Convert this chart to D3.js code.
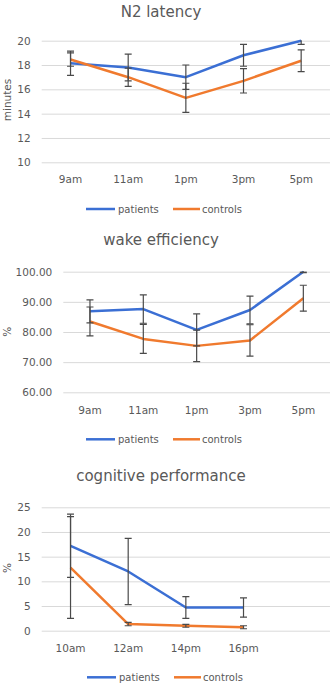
<!DOCTYPE html>
<html>
<head>
<meta charset="utf-8">
<script src="https://cdn.jsdelivr.net/npm/d3@7"></script>
<style>
  body { margin: 0; background: #fff; }
  svg { display: block; font-family: "DejaVu Sans", sans-serif; }
</style>
</head>
<body>
<div id="chart"></div>
<script>
// ---- data ----
var timesA = ['9am', '11am', '1pm', '3pm', '5pm'];
var timesB = ['10am', '12am', '14pm', '16pm'];

var n2Patients = [18.15, 17.8, 17.0, 18.8, 20.0];
var n2PatientsErr = [1.0, 1.1, 1.0, 0.9, 0.3];
var n2Controls = [18.45, 17.0, 15.3, 16.7, 18.35];
var n2ControlsErr = [0.55, 0.75, 1.2, 1.0, 0.9];
var n2Ticks = [10, 12, 14, 16, 18, 20];

var wakePatients = [86.85, 87.6, 80.7, 87.3, 100.0];
var wakePatientsErr = [3.8, 4.7, 5.3, 4.6, 0.3];
var wakeControls = [83.5, 77.7, 75.4, 77.2, 91.2];
var wakeControlsErr = [4.8, 4.8, 5.2, 5.2, 4.3];
var wakeTicks = [60, 70, 80, 90, 100];

var cogPatients = [17.2, 12.0, 4.7, 4.7];
var cogPatientsErr = [6.4, 6.7, 2.2, 1.95];
var cogControls = [12.8, 1.35, 1.0, 0.7];
var cogControlsErr = [10.3, 0.35, 0.3, 0.3];
var cogTicks = [0, 5, 10, 15, 20, 25];

var seriesNames = ['patients', 'controls'];
var colors = ['#3b6fd4', '#f07a2e'];

var W = 332, H = 685;
var svg = d3.select('#chart').append('svg').attr('width', W).attr('height', H);

function drawChart(opt) {
  var g = svg.append('g');
  var textCol = '#595959';

  // title
  g.append('text')
    .attr('x', 161).attr('y', opt.titleY)
    .attr('text-anchor', 'middle')
    .style('font-size', '15px').attr('fill', textCol)
    .text(opt.title);

  var y = d3.scaleLinear().domain(d3.extent(opt.ticks)).range([opt.bottom, opt.top]);
  // category slots: always 5 wide, like the source sheet
  var slotW = (330 - opt.left) / 5;
  var x = d3.scaleBand().domain(opt.cats).range([opt.left, opt.left + slotW * opt.cats.length]);
  var cx = function (c) { return x(c) + x.bandwidth() / 2; };

  // grid
  g.append('g')
    .attr('transform', 'translate(' + opt.left + ',0)')
    .call(d3.axisLeft(y).tickValues(opt.ticks).tickSize(-(330 - opt.left)).tickFormat(''))
    .call(function (a) { a.select('.domain').remove(); })
    .selectAll('line').attr('stroke', '#d9d9d9').attr('stroke-width', 1);

  // y labels
  g.append('g')
    .attr('transform', 'translate(' + (opt.left - 11) + ',0)')
    .call(d3.axisLeft(y).tickValues(opt.ticks).tickSize(0).tickPadding(0).tickFormat(opt.fmt))
    .call(function (a) { a.select('.domain').remove(); })
    .selectAll('text').attr('fill', textCol).style('font-size', '10.5px')
    .style('font-family', '"DejaVu Sans", sans-serif');

  // y title
  g.append('text')
    .attr('transform', 'translate(' + 11 + ',' + opt.ytitleY + ') rotate(-90)')
    .attr('text-anchor', 'middle')
    .style('font-size', '10.5px').attr('fill', textCol)
    .text(opt.ytitle);

  // x labels
  g.append('g')
    .attr('transform', 'translate(0,' + opt.xlabY + ')')
    .call(d3.axisBottom(x).tickSize(0).tickPadding(0))
    .call(function (a) { a.select('.domain').remove(); })
    .selectAll('text').attr('fill', textCol).style('font-size', '10.5px')
    .style('font-family', '"DejaVu Sans", sans-serif').attr('dy', '0.35em').attr('y', 0);

  var clipId = 'clip' + opt.id;
  g.append('clipPath').attr('id', clipId).append('rect')
    .attr('x', opt.left).attr('y', opt.top - 0.5)
    .attr('width', 330 - opt.left).attr('height', opt.bottom - opt.top + 1);

  var line = d3.line().x(function (d) { return cx(d.c); }).y(function (d) { return y(d.v); });

  opt.series.forEach(function (s, i) {
    var pts = opt.cats.map(function (c, k) { return { c: c, v: s.values[k], e: s.err[k] }; });
    g.append('path')
      .datum(pts)
      .attr('d', line)
      .attr('fill', 'none')
      .attr('stroke', colors[i])
      .attr('stroke-width', 2.5)
      .attr('stroke-linejoin', 'round');
  });

  // error bars on top
  opt.series.forEach(function (s, i) {
    var pts = opt.cats.map(function (c, k) { return { c: c, v: s.values[k], e: s.err[k] }; });
    var eb = g.append('g').attr('clip-path', 'url(#' + clipId + ')')
      .attr('stroke', '#4a4a4a').attr('stroke-width', 1.2);
    eb.selectAll('line.v').data(pts).enter().append('line')
      .attr('x1', function (d) { return cx(d.c); }).attr('x2', function (d) { return cx(d.c); })
      .attr('y1', function (d) { return y(d.v + d.e); }).attr('y2', function (d) { return y(d.v - d.e); });
    [1, -1].forEach(function (sgn) {
      eb.selectAll(null).data(pts).enter().append('line')
        .attr('x1', function (d) { return cx(d.c) - 3.5; }).attr('x2', function (d) { return cx(d.c) + 3.5; })
        .attr('y1', function (d) { return y(d.v + sgn * d.e); }).attr('y2', function (d) { return y(d.v + sgn * d.e); });
    });
  });

  // legend
  var lg = g.append('g').attr('transform', 'translate(0,' + opt.legY + ')');
  var legX = [[86, 115, 118], [173, 200, 202]];
  seriesNames.forEach(function (n, i) {
    lg.append('line').attr('x1', legX[i][0] + opt.legDx).attr('x2', legX[i][1] + opt.legDx)
      .attr('stroke', colors[i]).attr('stroke-width', 2.5);
    lg.append('text').attr('x', legX[i][2] + opt.legDx).attr('dy', '0.35em')
      .style('font-size', '10px').attr('fill', textCol).text(n);
  });
}

drawChart({
  id: 1, title: 'N2 latency', titleY: 17, ytitle: 'minutes', ytitleY: 100,
  top: 40.7, bottom: 162.3, left: 41.7, xlabY: 179, legY: 209, legDx: 0,
  cats: timesA, ticks: n2Ticks, fmt: d3.format('d'),
  series: [{ values: n2Patients, err: n2PatientsErr }, { values: n2Controls, err: n2ControlsErr }]
});

drawChart({
  id: 2, title: 'wake efficiency', titleY: 245, ytitle: '%', ytitleY: 331.7,
  top: 271.7, bottom: 392.3, left: 63.3, xlabY: 410, legY: 439.3, legDx: 0,
  cats: timesA, ticks: wakeTicks, fmt: d3.format('.2f'),
  series: [{ values: wakePatients, err: wakePatientsErr }, { values: wakeControls, err: wakeControlsErr }]
});

drawChart({
  id: 3, title: 'cognitive performance', titleY: 481, ytitle: '%', ytitleY: 568,
  top: 507.3, bottom: 630.7, left: 41.7, xlabY: 648.3, legY: 677.3, legDx: 1,
  cats: timesB, ticks: cogTicks, fmt: d3.format('d'),
  series: [{ values: cogPatients, err: cogPatientsErr }, { values: cogControls, err: cogControlsErr }]
});
</script>
</body>
</html>
